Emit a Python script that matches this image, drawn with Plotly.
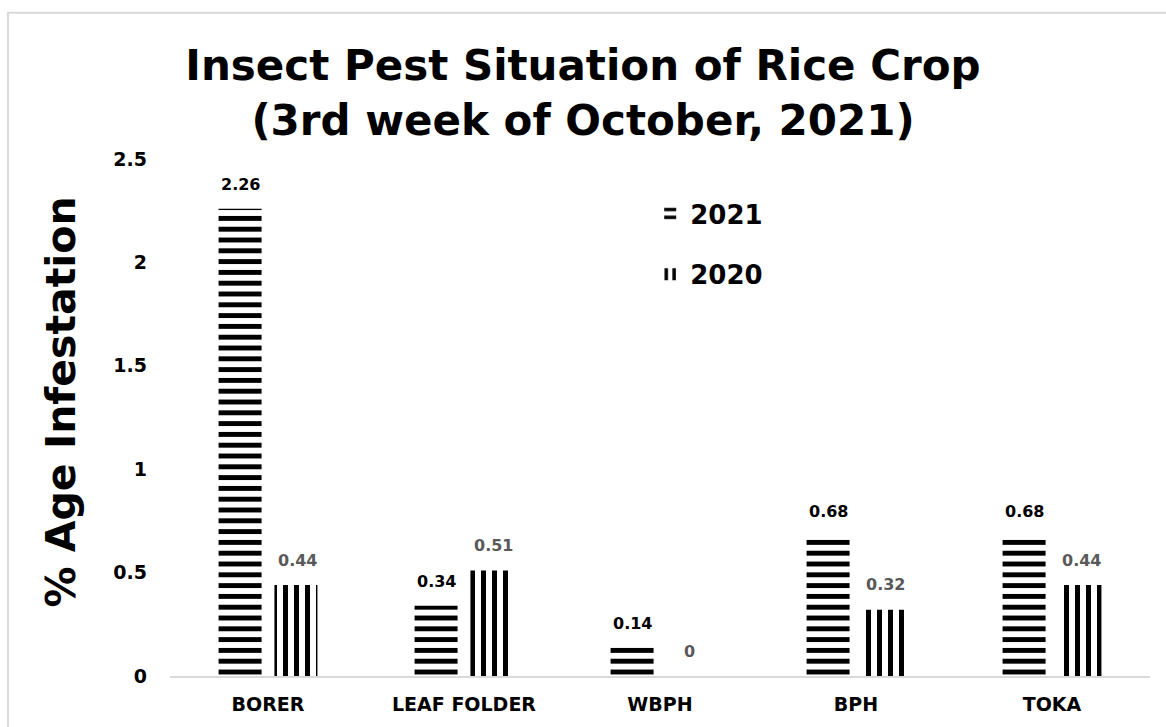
import plotly.graph_objects as go

categories = ["BORER", "LEAF FOLDER", "WBPH", "BPH", "TOKA"]
vals_2021 = [2.26, 0.34, 0.14, 0.68, 0.68]
vals_2020 = [0.44, 0.51, 0, 0.32, 0.44]
y_ticks = [0, 0.5, 1, 1.5, 2, 2.5]
y_tick_labels = ["0", "0.5", "1", "1.5", "2", "2.5"]

FONT = "DejaVu Sans"

fig = go.Figure()
fig.add_trace(go.Bar(
    x=categories, y=vals_2021, name="2021", legendgroup="a",
    marker=dict(color="white", line=dict(width=0),
                pattern=dict(shape="-", fgcolor="black", bgcolor="white",
                             size=10.8, solidity=0.45, fillmode="replace")),
))
fig.add_trace(go.Bar(
    x=categories, y=vals_2020, name="2020", legendgroup="b",
    marker=dict(color="white", line=dict(width=0),
                pattern=dict(shape="|", fgcolor="black", bgcolor="white",
                             size=11, solidity=0.45, fillmode="replace")),
))

annotations = []
for c, v in zip(categories, vals_2021):
    annotations.append(dict(x=c, y=v, xref="x", yref="y", text=f"{v:g}",
                            showarrow=False, xshift=-28, yshift=24, yanchor="middle",
                            font=dict(family=FONT, size=16, color="black", weight="bold")))
for c, v in zip(categories, vals_2020):
    annotations.append(dict(x=c, y=v, xref="x", yref="y", text=f"{v:g}",
                            showarrow=False, xshift=29, yshift=25, yanchor="middle",
                            font=dict(family=FONT, size=16, color="#595959", weight="bold")))
# y-axis title
annotations.append(dict(x=(61 - 170) / 980, y=(679 - 404) / 520, xref="paper", yref="paper",
                        text="% Age Infestation", textangle=-90, showarrow=False,
                        xanchor="center", yanchor="middle",
                        font=dict(family=FONT, size=41, color="black", weight="bold")))

fig.update_layout(
    width=1166, height=727,
    margin=dict(l=170, r=16, t=159, b=48),
    paper_bgcolor="white", plot_bgcolor="white",
    barmode="group", bargap=0.43, bargroupgap=0.23,
    font=dict(family=FONT, color="black"),
    title=dict(text="Insect Pest Situation of Rice Crop<br>(3rd week of October, 2021)",
               x=0.5, xref="container", xanchor="center",
               y=1 - 80 / 727, yref="container", yanchor="top",
               font=dict(family=FONT, size=42, color="black", weight="bold")),
    legend=dict(x=0.49, y=0.94, xanchor="left", yanchor="top",
                traceorder="grouped", tracegroupgap=24,
                bgcolor="rgba(0,0,0,0)",
                font=dict(family=FONT, size=26, color="black", weight="bold")),
    xaxis=dict(showline=True, linecolor="#d9d9d9", linewidth=1.5,
               showgrid=False, ticks="", ticklabelstandoff=10,
               tickfont=dict(family=FONT, size=19, color="black", weight="bold")),
    yaxis=dict(range=[0, 2.5], tickvals=y_ticks, ticktext=y_tick_labels,
               showgrid=False, zeroline=False, showline=False, ticks="",
               ticklabelstandoff=22,
               tickfont=dict(family=FONT, size=19, color="black", weight="bold")),
    annotations=annotations,
    shapes=[dict(type="rect", xref="paper", yref="paper",
                 x0=(8 - 170) / 980, x1=(1180 - 170) / 980,
                 y0=(679 - 740) / 520, y1=(679 - 12) / 520,
                 line=dict(color="#d9d9d9", width=2), fillcolor="rgba(0,0,0,0)",
                 layer="below")],
)

fig.write_html("out.html", config={"displayModeBar": False},
               post_script="document.body.style.margin='0px';")
